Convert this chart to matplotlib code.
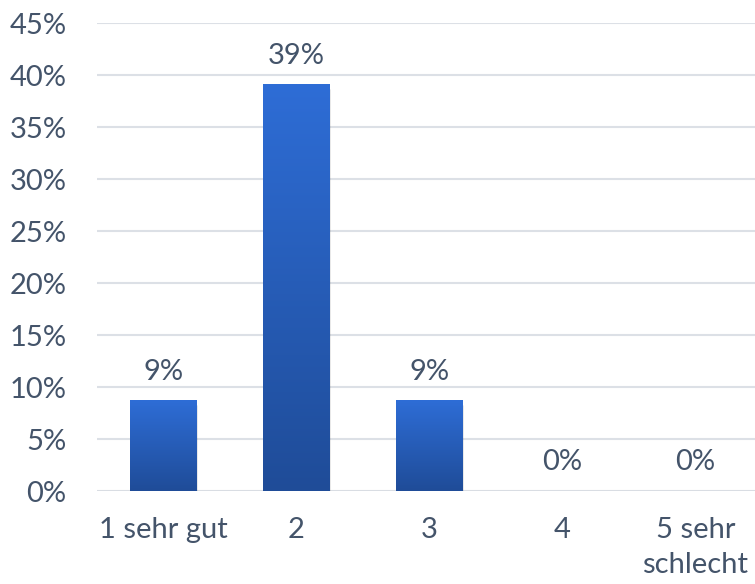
import matplotlib.pyplot as plt
from matplotlib.colors import LinearSegmentedColormap
import numpy as np

categories = ['1 sehr gut', '2', '3', '4', '5 sehr\nschlecht']
values = [8.7, 39.1, 8.7, 0.0, 0.0]
labels = ['9%', '39%', '9%', '0%', '0%']
yticks = [0, 5, 10, 15, 20, 25, 30, 35, 40, 45]

text_color = '#44546A'
plt.rcParams['font.family'] = ['Lato', 'DejaVu Sans']
fs = 21

fig = plt.figure(figsize=(7.55, 5.84), dpi=100)
ax = fig.add_axes([97 / 755, 93 / 584, 665 / 755, 468 / 584])

cmap = LinearSegmentedColormap.from_list('bar', ['#1F4C98', '#2E6DD6'])
grad = np.linspace(0, 1, 256).reshape(-1, 1)
width = 0.5

x = np.arange(len(categories))
for xi, v, lab in zip(x, values, labels):
    if v > 0:
        # weiche Schatten
        for k, a in enumerate([0.06, 0.05, 0.04]):
            d = 0.004 * (k + 1)
            ax.add_patch(plt.Rectangle((xi - width / 2 + d, -0.35 - 0.1 * k), width, v,
                                       color='#000000', alpha=a, lw=0, zorder=2))
        ax.imshow(grad, extent=[xi - width / 2, xi + width / 2, 0, v], origin='lower',
                  aspect='auto', cmap=cmap, zorder=3)
    ax.text(xi, v + 1.5, lab, ha='center', va='bottom', fontsize=fs, color=text_color)

ax.set_xlim(-0.5, len(categories) - 0.5)
ax.set_ylim(0, 45)
ax.set_yticks(yticks)
ax.set_yticklabels([f'{t}%' for t in yticks])
ax.set_xticks(x)
ax.set_xticklabels(categories, linespacing=1.4)
ax.tick_params(axis='both', length=0, labelsize=fs, colors=text_color)
ax.tick_params(axis='y', pad=22)
ax.tick_params(axis='x', pad=19)

ax.grid(axis='y', color='#DCE0E6', linewidth=1.5, zorder=0)
ax.set_axisbelow(True)
for s in ax.spines.values():
    s.set_visible(False)
ax.axhline(0, color='#D9DDE3', linewidth=2, zorder=1)

fig.savefig('out.png', dpi=100)
